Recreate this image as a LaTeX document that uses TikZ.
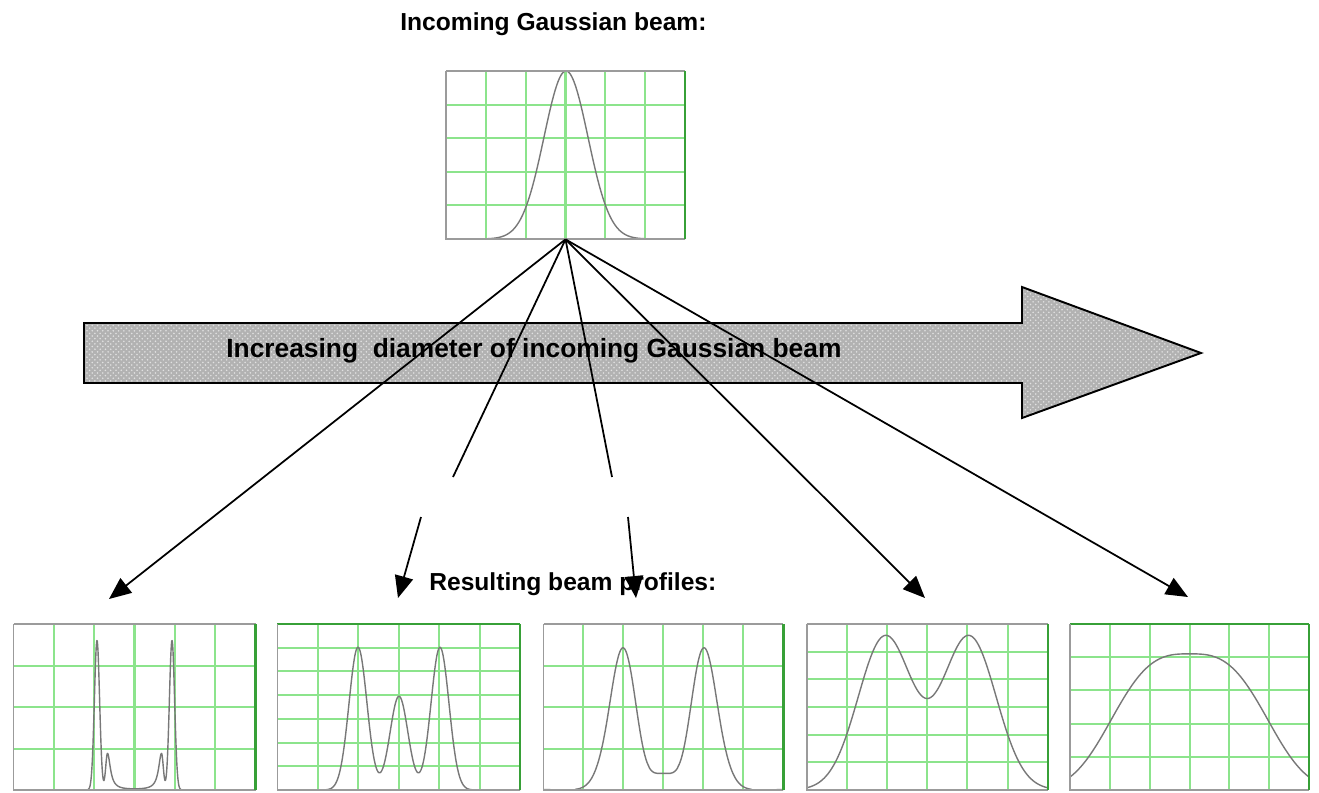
\documentclass[tikz,border=0pt]{standalone}
\usepackage{fontspec}
\setmainfont{Liberation Sans}
\usetikzlibrary{arrows.meta,patterns,fit}

\definecolor{gridg}{RGB}{140,228,140}
\definecolor{frameg}{RGB}{155,155,155}
\definecolor{edgeg}{RGB}{55,160,55}
\definecolor{curveg}{RGB}{120,120,120}
\definecolor{arrowfill}{RGB}{178,178,178}
\definecolor{speck}{RGB}{225,225,225}

\tikzset{
  gridline/.style={draw=gridg, line width=1.15pt},
  frameline/.style={draw=frameg, line width=1pt},
  edgeline/.style={draw=edgeg, line width=1.3pt},
  profile/.style={draw=curveg, line width=0.8pt, line join=round},
  ray/.style={draw=black, line width=1pt},
  rayarrow/.style={ray, -{Triangle[length=12.5pt,width=10.5pt]}},
  txt/.style={font=\bfseries\fontsize{14}{16}\selectfont, inner sep=0pt},
  bigtxt/.style={font=\bfseries\fontsize{15}{17}\selectfont, inner sep=0pt},
  plotbox/.style={inner sep=0pt, draw=none},
  bigarrow/.style={draw=black, line width=1.1pt, line join=miter},
}

% grid of a profile box: name, x0, y0, x1, y1, columns, rows
\newcommand{\profilegrid}[7]{%
  \coordinate (#1-nw) at (#2,#3);
  \coordinate (#1-se) at (#4,#5);
  \node[plotbox, fit=(#1-nw)(#1-se)] (#1) {};
  \pgfmathsetmacro\pbdx{(#4-#2)/#6}%
  \pgfmathsetmacro\pbdy{(#5-#3)/#7}%
  \pgfmathtruncatemacro\pbnc{#6-1}%
  \pgfmathtruncatemacro\pbnr{#7-1}%
  \foreach \k in {1,...,\pbnc}{\draw[gridline] ({#2+\k*\pbdx},#3) -- ({#2+\k*\pbdx},#5);}
  \foreach \k in {1,...,\pbnr}{\draw[gridline] (#2,{#3+\k*\pbdy}) -- (#4,{#3+\k*\pbdy});}
}
% frame of a profile box: name, style of the top edge
\newcommand{\profileframe}[2]{%
  \draw[#2] (#1-nw) -- (#1-se |- #1-nw);
  \draw[frameline] (#1-nw) -- (#1-nw |- #1-se) -- (#1-se);
  \draw[edgeline] (#1-se |- #1-nw) -- (#1-se);
}

\begin{document}
\begin{tikzpicture}[x=0.02cm, y=-0.02cm,
  declare function={
    gs(\u,\s)=exp(-0.5*(\u/\s)*(\u/\s));
    sgt(\u,\w)=exp(-abs(\u/\w)*(\u/\w)*(\u/\w));
    sge(\u,\w)=exp(-pow((\u/\w)*(\u/\w),4));
    lor(\u,\w)=1/(1+(\u/\w)*(\u/\w));
    spk(\u)=ifthenelse(\u<0,gs(\u,1.8),lor(\u,3.5));
    ring(\u,\d)=pow((\u/\d)*(\u/\d)+0.000001,2.5)*exp(-2.5*((\u/\d)*(\u/\d)-1));
  }]
\useasboundingbox (0,0) rectangle (1319,792);

% ---------- incoming beam ----------
\node[txt, anchor=base west] (title) at (400,30) {Incoming Gaussian beam:};
\profilegrid{top}{446}{71}{685}{239}{6}{5}
\draw[profile] plot[domain=446:685, samples=240] (\x, {239-168*gs(\x-566,22)});
\profileframe{top}{frameline}

% ---------- big arrow ----------
\path[fill=arrowfill] (84,323) -- (1022,323) -- (1022,287) -- (1201,353) -- (1022,418) -- (1022,383) -- (84,383) -- cycle;
\path[pattern=crosshatch dots, pattern color=speck] (84,323) -- (1022,323) -- (1022,287) -- (1201,353) -- (1022,418) -- (1022,383) -- (84,383) -- cycle;
\draw[bigarrow] (84,323) -- (1022,323) -- (1022,287) -- (1201,353) -- (1022,418) -- (1022,383) -- (84,383) -- cycle;
\node[bigtxt, anchor=base west] (incr) at (226,357) {Increasing\ \ diameter of incoming Gaussian beam};

% ---------- resulting profiles ----------
\node[txt, anchor=base west] (result) at (429,590) {Resulting beam profiles:};

\profilegrid{pA}{13.5}{624}{255.5}{790}{6}{4}
\draw[profile] plot[domain=13.5:255.5, samples=700]
  (\x, {790-166*(0.9*gs(\x-97,2.6)+0.9*gs(\x-172,2.6)+0.22*spk(\x-107.5)+0.22*spk(161.5-\x))});
\profileframe{pA}{frameline}

\profilegrid{pB}{277.4}{624}{520}{790}{6}{7}
\draw[profile] plot[domain=277.4:520, samples=300]
  (\x, {790-166*(0.86*gs(\x-358,9)+0.86*gs(\x-440,9)+0.565*gs(\x-399,9))});
\profileframe{pB}{edgeline}

\profilegrid{pC}{543.5}{624}{783.4}{790}{6}{4}
\draw[profile] plot[domain=543.5:783.4, samples=300]
  (\x, {790-166*(0.1*sge(\x-663.5,52)+0.77*ring(\x-663.5,41))});
\profileframe{pC}{frameline}

\profilegrid{pD}{806.8}{624}{1047.7}{790}{6}{6}
\draw[profile] plot[domain=806.8:1047.7, samples=300]
  (\x, {790-166*(0.924*(gs(\x-885.2,27)+gs(\x-969.2,27)))});
\profileframe{pD}{frameline}

\profilegrid{pE}{1070}{624}{1309}{790}{6}{5}
\draw[profile] plot[domain=1070:1309, samples=300]
  (\x, {790-166*(0.82*sgt(\x-1189.5,89.9))});
\profileframe{pE}{edgeline}

% ---------- rays ----------
\coordinate (t1) at (109,599);
\coordinate (e2) at (453,477);
\coordinate (s2) at (421,517);
\coordinate (t2) at (398,598);
\coordinate (e3) at (612,477);
\coordinate (s3) at (628,517);
\coordinate (t3) at (636,598);
\coordinate (t4) at (925,598);
\coordinate (t5) at (1188,597);

\draw[rayarrow] (top.south) -- (t1);
\draw[ray] (top.south) -- (e2);
\draw[rayarrow] (s2) -- (t2);
\draw[ray] (top.south) -- (e3);
\draw[rayarrow] (s3) -- (t3);
\draw[rayarrow] (top.south) -- (t4);
\draw[rayarrow] (top.south) -- (t5);
\end{tikzpicture}
\end{document}
